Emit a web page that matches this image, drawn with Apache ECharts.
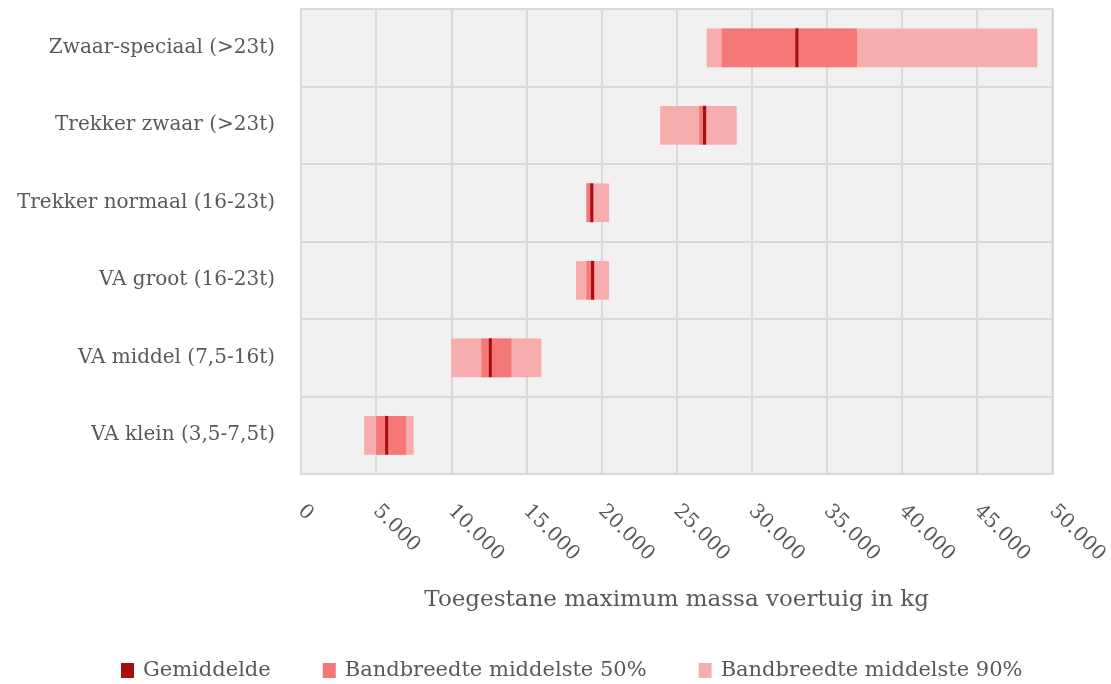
<!DOCTYPE html>
<html>
<head>
<meta charset="utf-8">
<script src="https://cdn.jsdelivr.net/npm/echarts@6/dist/echarts.min.js"></script>
<style>html,body{margin:0;padding:0;background:#fff}#c{width:1111px;height:684px}</style>
</head>
<body>
<div id="c"></div>
<script>
const categories = ['VA klein (3,5-7,5t)', 'VA middel (7,5-16t)', 'VA groot (16-23t)', 'Trekker normaal (16-23t)', 'Trekker zwaar (>23t)', 'Zwaar-speciaal (>23t)'];
const p5  = [4200, 10000, 18300, 19000, 23900, 27000];
const p25 = [5000, 12000, 19000, 19000, 26500, 28000];
const meanVals = [5700, 12600, 19400, 19350, 26850, 33000];
const p75 = [7000, 14000, 19550, 19450, 27000, 37000];
const p95 = [7500, 16000, 20500, 20500, 29000, 49000];
const xTicks = [0, 5000, 10000, 15000, 20000, 25000, 30000, 35000, 40000, 45000, 50000];

const FONT = 'DejaVu Serif';
const TXT = '#595959';
const C_MEAN = '#a50f0f', C50 = '#f47878', C90 = '#f7adad';

function rangeItem(color){
  return function(params, api){
    const c = api.value(0);
    const lo = api.coord([api.value(1), c]);
    const hi = api.coord([api.value(2), c]);
    const h = api.size([0, 1])[1] * 0.5;
    return {type:'rect', shape:{x:lo[0], y:lo[1]-h/2, width:hi[0]-lo[0], height:h}, style:{fill:color}};
  };
}
function meanItem(params, api){
  const c = api.value(0);
  const p = api.coord([api.value(1), c]);
  const h = api.size([0, 1])[1] * 0.5;
  return {type:'rect', shape:{x:p[0]-1.5, y:p[1]-h/2, width:3, height:h}, style:{fill:C_MEAN}};
}

const chart = echarts.init(document.getElementById('c'), null, {renderer:'canvas'});
chart.setOption({
  animation:false,
  backgroundColor:'#fff',
  textStyle:{fontFamily:FONT},
  grid:{left:301, right:58, top:9, bottom:210, show:true, backgroundColor:'#f1f1f1', borderColor:'#d9d9d9', borderWidth:2},
  legend:{
    top:655, left:116, itemWidth:13, itemHeight:15, itemGap:52, icon:'rect',
    textStyle:{fontFamily:FONT, fontSize:21, color:TXT, padding:[0,0,0,4]},
    data:['Gemiddelde','Bandbreedte middelste 50%','Bandbreedte middelste 90%']
  },
  xAxis:{
    type:'value', min:xTicks[0], max:xTicks[xTicks.length-1], interval:xTicks[1]-xTicks[0],
    axisLine:{show:false}, axisTick:{show:false},
    splitLine:{show:true, lineStyle:{color:'#d9d9d9', width:2}},
    axisLabel:{
      rotate:-45, margin:34,
      fontFamily:FONT, fontSize:20, color:TXT,
      formatter:function(v){ return String(v).replace(/\B(?=(\d{3})+(?!\d))/g, '.'); }
    },
    name:'Toegestane maximum massa voertuig in kg', nameLocation:'middle', nameGap:115,
    nameTextStyle:{fontFamily:FONT, fontSize:23, color:TXT}
  },
  yAxis:{
    type:'category', data:categories,
    axisLine:{show:false}, axisTick:{show:false},
    splitLine:{show:true, lineStyle:{color:'#d9d9d9', width:2}},
    axisLabel:{fontFamily:FONT, fontSize:20, color:TXT, margin:26}
  },
  series:[
    {name:'Bandbreedte middelste 90%', type:'custom', itemStyle:{color:C90}, renderItem:rangeItem(C90),
     encode:{x:[1,2], y:0}, data:categories.map((c,i)=>[i, p5[i], p95[i]])},
    {name:'Bandbreedte middelste 50%', type:'custom', itemStyle:{color:C50}, renderItem:rangeItem(C50),
     encode:{x:[1,2], y:0}, data:categories.map((c,i)=>[i, p25[i], p75[i]])},
    {name:'Gemiddelde', type:'custom', itemStyle:{color:C_MEAN}, renderItem:meanItem,
     encode:{x:1, y:0}, data:categories.map((c,i)=>[i, meanVals[i]])}
  ]
});
</script>
</body>
</html>
